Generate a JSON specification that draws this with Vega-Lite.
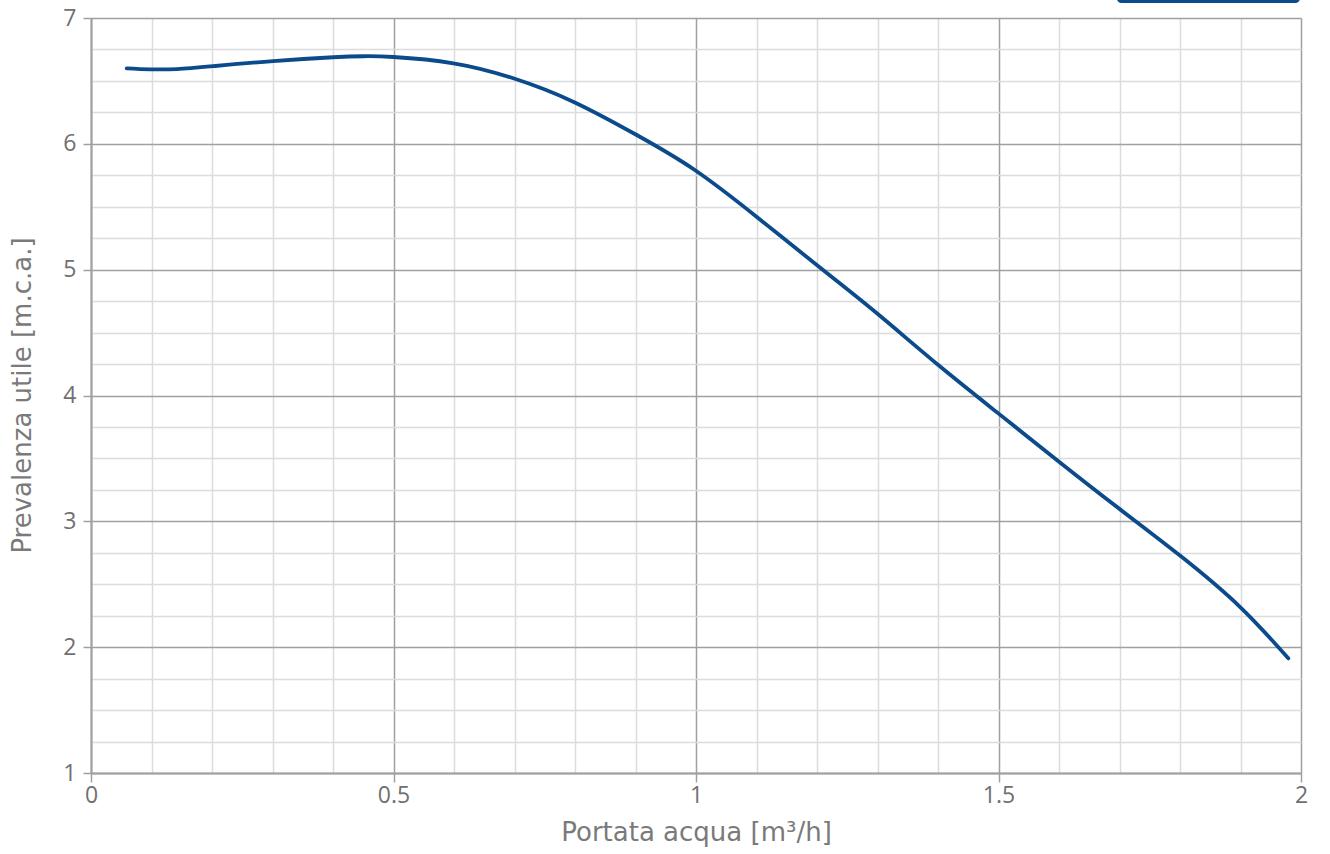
{
  "$schema": "https://vega.github.io/schema/vega-lite/v6.json",
  "width": 1210,
  "height": 755,
  "autosize": {"type": "none"},
  "padding": {"left": 91, "top": 18, "right": 29, "bottom": 81},
  "background": "white",
  "config": {
    "font": "Open Sans",
    "view": {"stroke": null}
  },
  "datasets": {
    "curve": [
      {"q": 0.059, "h": 6.600},
      {"q": 0.0975, "h": 6.592},
      {"q": 0.142, "h": 6.594},
      {"q": 0.202, "h": 6.617},
      {"q": 0.301, "h": 6.658},
      {"q": 0.4005, "h": 6.688},
      {"q": 0.450, "h": 6.696},
      {"q": 0.500, "h": 6.690},
      {"q": 0.599, "h": 6.640},
      {"q": 0.698, "h": 6.521},
      {"q": 0.797, "h": 6.335},
      {"q": 0.902, "h": 6.070},
      {"q": 0.998, "h": 5.792},
      {"q": 1.100, "h": 5.421},
      {"q": 1.210, "h": 4.997},
      {"q": 1.299, "h": 4.653},
      {"q": 1.4005, "h": 4.242},
      {"q": 1.4997, "h": 3.858},
      {"q": 1.600, "h": 3.474},
      {"q": 1.701, "h": 3.095},
      {"q": 1.800, "h": 2.728},
      {"q": 1.899, "h": 2.321},
      {"q": 1.979, "h": 1.911}
    ],
    "legendbox": [
      {"x1": 1.696, "x2": 1.998, "y1": 7.12, "y2": 7.4}
    ]
  },
  "layer": [
    {
      "data": {"name": "curve"},
      "mark": {"type": "line", "interpolate": "natural", "color": "#0b4a8b", "strokeWidth": 3.8, "strokeCap": "round"},
      "encoding": {
        "x": {
          "field": "q", "type": "quantitative",
          "scale": {"domain": [0, 2], "nice": false, "zero": false},
          "axis": {
            "title": "Portata acqua [m³/h]",
            "values": [0, 0.1, 0.2, 0.3, 0.4, 0.5, 0.6, 0.7, 0.8, 0.9, 1, 1.1, 1.2, 1.3, 1.4, 1.5, 1.6, 1.7, 1.8, 1.9, 2],
            "tickCount": 100,
            "labelExpr": "abs(datum.value*2 - round(datum.value*2)) < 0.001 ? datum.label : ''",
            "format": "~g",
            "labelFontSize": 23,
            "labelColor": "#707070",
            "labelPadding": 2,
            "labelFlush": false,
            "labelOverlap": false,
            "grid": true,
            "gridColor": {"condition": {"test": "abs(datum.value*2 - round(datum.value*2)) < 0.001", "value": "#a0a0a0"}, "value": "#dcdcdc"},
            "gridWidth": 1.5,
            "tickColor": {"condition": {"test": "abs(datum.value*2 - round(datum.value*2)) < 0.001", "value": "#a0a0a0"}, "value": "transparent"},
            "tickSize": 9,
            "tickWidth": 1.5,
            "domainColor": "#a0a0a0",
            "domainWidth": 2,
            "titleFont": "DejaVu Sans",
            "titleFontSize": 26,
            "titleFontWeight": "normal",
            "titleColor": "#7a7a7a",
            "titleX": 605,
            "titleY": 67,
            "titleBaseline": "alphabetic",
            "titleAlign": "center"
          }
        },
        "y": {
          "field": "h", "type": "quantitative",
          "scale": {"domain": [1, 7], "nice": false, "zero": false},
          "axis": {
            "title": "Prevalenza utile [m.c.a.]",
            "values": [1, 1.25, 1.5, 1.75, 2, 2.25, 2.5, 2.75, 3, 3.25, 3.5, 3.75, 4, 4.25, 4.5, 4.75, 5, 5.25, 5.5, 5.75, 6, 6.25, 6.5, 6.75, 7],
            "tickCount": 100,
            "labelExpr": "abs(datum.value - round(datum.value)) < 0.001 ? datum.label : ''",
            "format": "~g",
            "labelFontSize": 23,
            "labelColor": "#707070",
            "labelPadding": 7,
            "labelFlush": false,
            "labelOverlap": false,
            "grid": true,
            "gridColor": {"condition": {"test": "abs(datum.value - round(datum.value)) < 0.001", "value": "#a0a0a0"}, "value": "#dcdcdc"},
            "gridWidth": 1.5,
            "tickColor": {"condition": {"test": "abs(datum.value - round(datum.value)) < 0.001", "value": "#a0a0a0"}, "value": "transparent"},
            "tickSize": 8,
            "tickWidth": 1.5,
            "domainColor": "#a0a0a0",
            "domainWidth": 2,
            "titleFont": "DejaVu Sans",
            "titleFontSize": 26,
            "titleFontWeight": "normal",
            "titleColor": "#7a7a7a",
            "titleAngle": -90,
            "titleX": -69,
            "titleY": 377,
            "titleBaseline": "middle",
            "titleAlign": "center"
          }
        }
      }
    },
    {
      "data": {"name": "legendbox"},
      "mark": {"type": "rect", "color": "#0b4a8b", "cornerRadius": 4, "clip": false},
      "encoding": {
        "x": {"field": "x1", "type": "quantitative"},
        "x2": {"field": "x2"},
        "y": {"field": "y1", "type": "quantitative"},
        "y2": {"field": "y2"}
      }
    }
  ]
}
